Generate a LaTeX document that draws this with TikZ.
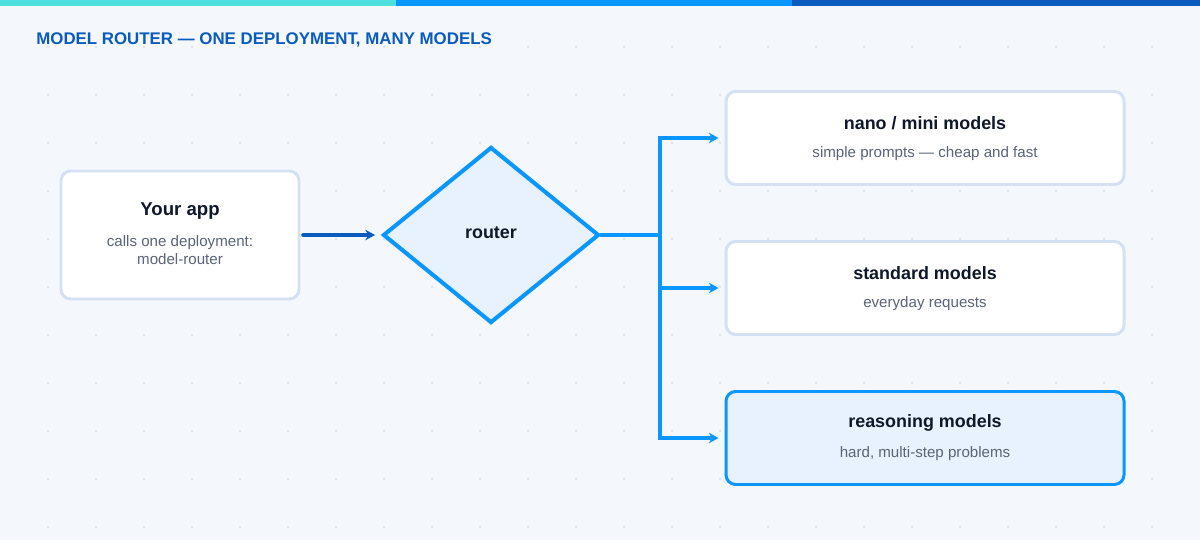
\documentclass[tikz,border=0pt]{standalone}
\usepackage{fontspec}
\setmainfont{Liberation Sans}
\usetikzlibrary{arrows.meta}
\usetikzlibrary{positioning}
\usetikzlibrary{shapes.geometric}
\definecolor{mrbg}{HTML}{F4F7FC}
\definecolor{mrdot}{HTML}{DFE5EE}
\definecolor{mrink}{HTML}{0F172A}
\definecolor{mrmuted}{HTML}{5A6478}
\definecolor{mrborder}{HTML}{D5E1F2}
\definecolor{mrteal}{HTML}{4DE0DD}
\definecolor{mrblue}{HTML}{0A96FF}
\definecolor{mrbluefill}{HTML}{E8F2FE}
\definecolor{mrdark}{HTML}{0A5BBE}
\tikzset{
  mrbox/.style={
    draw=mrborder, fill=white, rounded corners=5.5pt, line width=1.7pt},
  mrhot/.style={mrbox, draw=mrblue, fill=mrbluefill},
  mrflow/.style={-{Stealth[length=5.5pt, width=6pt]}, draw=mrblue,
    line width=2.2pt},
  mrin/.style={-{Stealth[length=5.5pt, width=6pt]}, draw=mrdark,
    line width=2pt},
  mrtitle/.style={anchor=west, inner sep=0pt, text=mrdark,
    font=\fontsize{9.6pt}{11pt}\selectfont\bfseries},
  mrhead/.style={text=mrink, font=\fontsize{10.2pt}{12pt}\selectfont\bfseries},
  mrsub/.style={text=mrmuted, font=\fontsize{8.6pt}{10pt}\selectfont},
  every picture/.style={line cap=round},
}
\begin{document}
\begin{tikzpicture}[x=1cm, y=1cm]

% Canvas and dot grid.
\fill[mrbg] (0, 0) rectangle (24, -10.8);
\foreach \i in {1,...,24}
  \foreach \j in {1,...,11}
    \fill[mrdot] (\i*0.96, -\j*0.96+0.02) circle (0.03);

% Header bar and title.
\fill[mrteal] (0, 0) rectangle (7.92, -0.12);
\fill[mrblue] (7.92, 0) rectangle (15.84, -0.12);
\fill[mrdark] (15.84, 0) rectangle (24, -0.12);
\node[mrtitle] at (0.72, -0.80)
  {MODEL ROUTER — ONE DEPLOYMENT, MANY MODELS};

% The calling application.
\node[mrbox, minimum width=4.76cm, minimum height=2.56cm]
  (app) at (3.6, -4.7) {};
\node[mrhead, font=\fontsize{10.6pt}{12pt}\selectfont\bfseries]
  at (3.6, -4.22) {Your app};
\node[mrsub] at (3.6, -4.85) {calls one deployment:};
\node[mrsub] at (3.6, -5.19) {model-router};

% The router.
\node[diamond, draw=mrblue, fill=mrbluefill, line width=2.3pt,
      minimum width=4.32cm, minimum height=3.52cm, inner sep=0pt,
      mrhead] (router) at (9.82, -4.7) {\raisebox{3pt}{router}};
\draw[mrin, shorten <=0.05cm, shorten >=0.12cm] (app.east) -- (router.west);

% Model families.
\node[mrbox, minimum width=7.96cm, minimum height=1.86cm]
  (nano) at (18.5, -2.76) {};
\node[mrhead] at (18.5, -2.46) {nano / mini models};
\node[mrsub] at (18.5, -3.08) {simple prompts — cheap and fast};
\node[mrbox, minimum width=7.96cm, minimum height=1.86cm]
  (standard) at (18.5, -5.76) {};
\node[mrhead] at (18.5, -5.46) {standard models};
\node[mrsub] at (18.5, -6.08) {everyday requests};
\node[mrhot, minimum width=7.96cm, minimum height=1.86cm]
  (reasoning) at (18.5, -8.76) {};
\node[mrhead] at (18.5, -8.46) {reasoning models};
\node[mrsub] at (18.5, -9.08) {hard, multi-step problems};

% Fan-out from the router.
\coordinate (split) at (13.2, -4.7);
\draw[mrblue, line width=2.2pt] (router.east) -- (split);
\draw[mrflow, shorten >=0.12cm] (split) |- (nano.west);
\draw[mrflow, shorten >=0.12cm] (split) |- (reasoning.west);
\draw[mrflow, shorten >=0.12cm] (split |- standard.west) -- (standard.west);

\end{tikzpicture}
\end{document}
